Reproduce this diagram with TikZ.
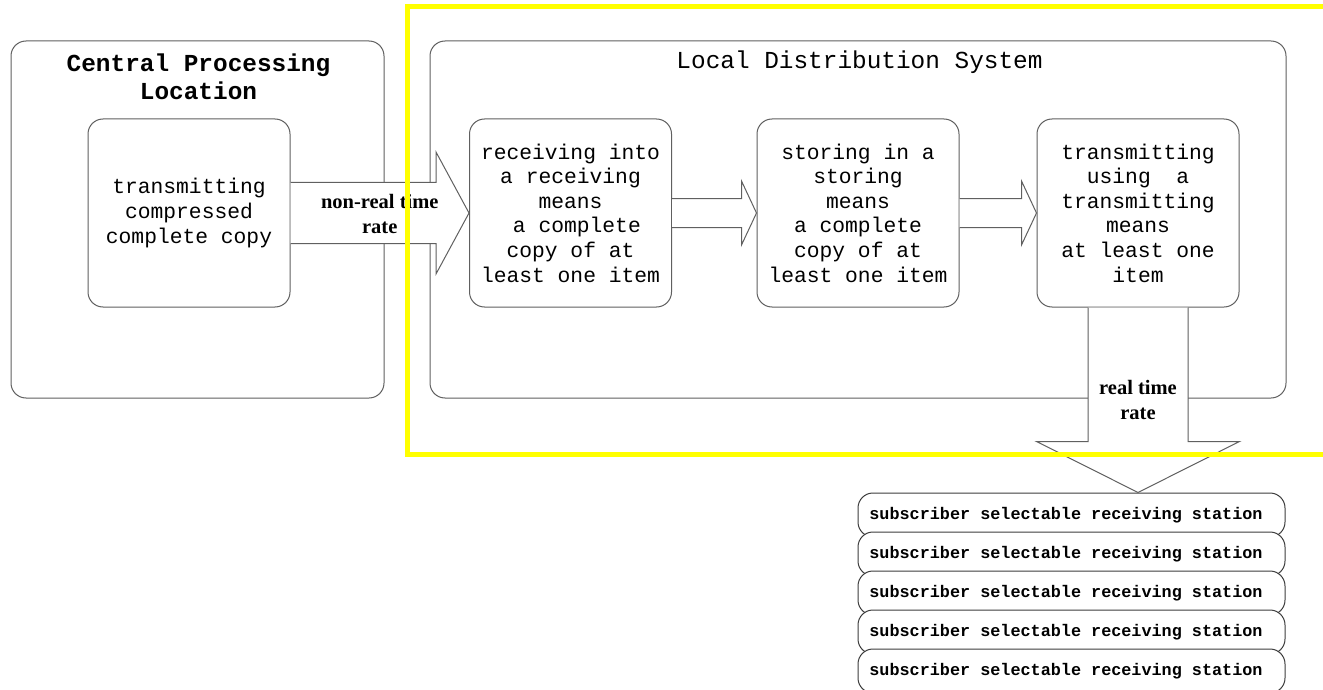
\documentclass[tikz,border=0pt]{standalone}
\usepackage{fontspec}
\newfontfamily\monofont{Liberation Mono}
\newfontfamily\labelfont{Liberation Serif}
\usepackage{xcolor}
\usepackage{tikz}
\usetikzlibrary{calc}
\definecolor{linegray}{RGB}{96,96,96}
\definecolor{stationgray}{RGB}{60,60,60}
\definecolor{hiyellow}{RGB}{255,255,0}

\begin{document}
\begin{tikzpicture}[x=1pt, y=-1pt,
  box/.style={draw=linegray, line width=1pt, rounded corners=15pt, fill=white, inner sep=0pt},
  stepbox/.style={box, minimum width=202pt, minimum height=188pt, align=center,
    font=\monofont\fontsize{21.3}{24.6}\selectfont},
  areabox/.style={box, minimum height=357pt},
  blockarr/.style={draw=linegray, line width=1pt, fill=white, line join=miter},
  ratelabel/.style={align=center, font=\labelfont\bfseries\fontsize{20.5}{25.5}\selectfont},
  station/.style={draw=stationgray, line width=1pt, rounded corners=15pt, fill=white,
    minimum width=427pt, minimum height=44pt, inner sep=0pt,
    font=\monofont\bfseries\fontsize{16.8}{20}\selectfont}]
\useasboundingbox (0,0) rectangle (1323,690);
% LEFT AREA: Central Processing Location
\node[areabox, minimum width=373pt] (cpl) at (197.5, 219.5) {};
\node[align=center, font=\monofont\bfseries\fontsize{24.4}{28}\selectfont] (cpltitle) at (198.5, 77) {Central Processing\\Location};
\node[stepbox] (cpin) at (189, 213) {transmitting\\compressed\\complete copy};
% RIGHT AREA: Local Distribution System
\node[areabox, minimum width=856pt] (lds) at (858, 219.5) {};
\node[font=\monofont\fontsize{24.4}{28}\selectfont] (ldstitle) at (859.5, 62) {Local Distribution System};
\node[stepbox] (recv) at (570.5, 213) {receiving into\\a receiving\\means\\\mbox{ }a complete\\copy of at\\least one item};
\node[stepbox] (store) at (858, 213) {storing in a\\storing\\means\\a complete\\copy of at\\least one item};
\node[stepbox] (xmit) at (1138, 213) {transmitting\\using\ \ a\\transmitting\\means\\at least one\\item};
% BLOCK ARROWS
\draw[blockarr] ($(cpin.east)+(0,-30.5)$) -- ($(recv.west)+(-33,-30.5)$) -- ($(recv.west)+(-33,-61)$)
  -- (recv.west) -- ($(recv.west)+(-33,61)$) -- ($(recv.west)+(-33,30.5)$) -- ($(cpin.east)+(0,30.5)$);
\node[ratelabel] (nrt) at ($(cpin.east)!0.5!(recv.west)+(0,1)$) {non-real time\\rate};
\draw[blockarr] ($(recv.east)+(0,-14.5)$) -- ($(store.west)+(-15,-14.5)$) -- ($(store.west)+(-15,-32)$)
  -- (store.west) -- ($(store.west)+(-15,32)$) -- ($(store.west)+(-15,14.5)$) -- ($(recv.east)+(0,14.5)$);
\draw[blockarr] ($(store.east)+(0,-14.5)$) -- ($(xmit.west)+(-15,-14.5)$) -- ($(xmit.west)+(-15,-32)$)
  -- (xmit.west) -- ($(xmit.west)+(-15,32)$) -- ($(xmit.west)+(-15,14.5)$) -- ($(store.east)+(0,14.5)$);
% SUBSCRIBER STATIONS
\foreach \i in {0,...,4}
  \node[station] (st\i) at (1071.5, 515+39*\i) {\hspace*{-11pt}subscriber selectable receiving station};
% DOWN ARROW to the stations
\coordinate (tip) at (xmit.south |- st0.north);
\draw[blockarr] ($(xmit.south)+(-50,0)$) -- ($(tip)+(-50,-51)$) -- ($(tip)+(-101.5,-51)$)
  -- (tip) -- ($(tip)+(101.5,-51)$) -- ($(tip)+(50,-51)$) -- ($(xmit.south)+(50,0)$);
\node[ratelabel] (rt) at ($(xmit.south)!0.5!(tip)$) {real time\\rate};
% HIGHLIGHT FRAME
\draw[hiyellow, line width=5pt] (1330,6.5) -- (407.5,6.5) -- (407.5,454) -- (1330,454);
\end{tikzpicture}
\end{document}
